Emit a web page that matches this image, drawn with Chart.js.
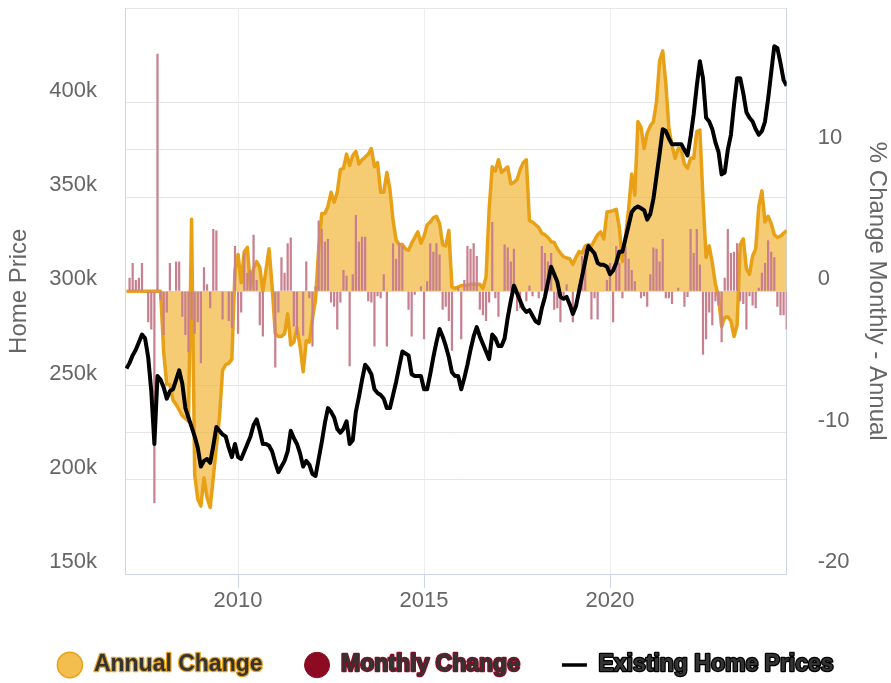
<!DOCTYPE html>
<html>
<head>
<meta charset="utf-8">
<title>Existing Home Prices</title>
<script src="https://cdn.jsdelivr.net/npm/chart.js@4.4.1/dist/chart.umd.min.js"></script>
<style>
  html, body { margin: 0; padding: 0; background: #fff; }
  canvas { display: block; }
</style>
</head>
<body>
<canvas id="chart" width="891" height="683"></canvas>
<script>
// Monthly series, January 2007 onward
const startYear = 2007;

// Existing home prices, thousands of dollars
const homePrices = [
  259, 262, 266, 269, 273, 277, 275, 265, 247, 219, 255, 253,
  249, 243, 247, 248, 253, 258, 251, 238, 233, 228, 223, 217,
  207, 210, 211, 209, 218, 228, 226, 224, 223, 217, 212, 219,
  212, 211, 215, 219, 223, 229, 232, 226, 219, 219, 218, 215,
  209, 204, 207, 210, 215, 226, 222, 219, 214, 207, 210, 208,
  203, 202, 211, 220, 230, 238, 236, 233, 227, 225, 227, 231,
  219, 221, 236, 244, 253, 261, 259, 256, 248, 246, 245, 243,
  238, 238, 245, 252, 260, 268, 267, 266, 256, 255, 255, 255,
  248, 248, 256, 265, 273, 280, 276, 271, 265, 257, 255, 255,
  248, 254, 261, 269, 276, 281, 276, 272, 268, 264, 277, 275,
  271, 271, 275, 286, 295, 303, 299, 295, 291, 289, 290, 287,
  284, 283, 291, 297, 305, 313, 309, 305, 297, 296, 297, 293,
  288, 292, 300, 308, 316, 324, 322, 320, 315, 314, 314, 313,
  309, 311, 315, 321, 321, 328, 335, 342, 344, 345, 344, 343,
  338, 341, 349, 361, 373, 386, 385, 381, 378, 378, 378, 378,
  375, 372, 382, 394, 409, 422, 413, 392, 390, 386, 379, 374,
  362, 363, 375, 383, 399, 413, 413, 405, 395, 392, 390, 386,
  383, 385, 390, 402, 416, 430, 429, 421, 412, 409
];

// Year-over-year change, %
const annualChange = [
  0, 0, 0, 0, 0, 0, 0, 0, 0, 0, 0, 0,
  -4.3, -6.6, -6.6, -7.7, -8.0, -8.4, -8.8, -9.0, -9.2, 5.1, -13.0, -14.7,
  -15.2, -13.2, -14.6, -15.3, -13.2, -11.0, -8.9, -5.6, -5.2, -5.1, -4.8, 1.5,
  2.6, 0.6, 2.8, 3.1, 0.2, 1.6, 2.1, 1.7, 0, 1.5, 3.0, 0.3,
  -3.0, -3.2, -3.2, -3.0, -1.6, -3.8, -3.6, -2.6, -3.9, -5.7, -3.5, -3.6,
  -1.9, -0.6, 3.0, 5.5, 5.5, 6.0, 7.0, 6.3, 7.0, 8.6, 8.7, 9.7,
  8.9, 9.6, 9.9, 9.0, 9.3, 9.5, 9.7, 10.1, 8.8, 9.1, 7.0, 7.0,
  8.4, 7.2, 5.0, 3.6, 3.3, 3.3, 3.0, 2.9, 3.4, 3.8, 4.2, 3.4,
  3.9, 4.7, 4.9, 5.2, 5.3, 4.8, 3.3, 3.2, 4.3, 0.3, 0.2, 0.3,
  0.4, 0.4, 0.4, 0.5, 0.5, 0.5, 0.5, 0.2, 1.0, 5.8, 8.8, 8.5,
  9.3, 8.4, 8.6, 8.8, 7.6, 7.7, 7.9, 8.6, 9.1, 9.3, 5.0, 4.9,
  4.7, 4.5, 4.1, 4.0, 3.8, 3.5, 3.45, 3.0, 2.7, 2.45, 2.35, 2.3,
  1.9, 2.4, 2.8, 2.7, 3.2, 3.3, 3.2, 3.6, 4.0, 4.2, 3.7, 5.6,
  5.65, 5.7, 5.8, 4.5, 2.1, 3.9, 5.8, 8.3, 6.8, 12.0, 11.6, 10.1,
  11.2, 11.7, 12.0, 13.4, 16.3, 17.0, 14.7, 11.5, 10.3, 9.4, 10.1, 10.0,
  9.0, 8.7, 9.4, 9.4, 11.3, 11.4, 6.5, 2.4, 3.2, 2.0, 0.5, -0.4,
  -2.5, -1.85, -1.8, -2.1, -3.2, -2.4, 3.3, 3.7, 1.6, 1.2, 2.5, 3.0,
  6.0, 7.1, 4.9, 5.3, 4.8, 4.0, 3.8, 3.9, 4.1, 4.3
];

// Month-over-month change, %
const monthlyChange = [
  0, 0.95, 2.0, 0.8, 0.95, 2.0, 0, -2.2, -2.7, -15.0, 16.8, -0.6,
  -3.1, -1.5, 2.0, 0, 2.1, 2.1, -1.8, -3.1, -4.3, -2.0, -3.0, -2.2,
  -5.1, 1.7, 0.5, -1.2, 4.4, 4.3, 0, -2.0, 0, -2.1, -2.6, 3.2,
  -3.0, -1.5, 2.7, 1.3, 1.5, 4.0, 0.8, -2.4, -3.2, 0, 0, 0,
  -5.4, -1.5, 2.4, 1.3, 3.4, 3.8, -2.5, -3.1, 0, -3.15, 2.1, -0.5,
  -3.9, 0.35, 5.0, 4.4, 3.5, 3.7, -0.8, -1.1, -2.7, -0.8, 1.5, 1.1,
  -5.3, 1.2, 5.4, 3.5, 3.85, 3.85, -0.7, -0.8, -3.9, -0.35, -0.5, 1.2,
  -3.9, 0, 3.4, 2.3, 3.4, 3.2, 0, -1.3, -3.2, -0.25, 0, 0.35,
  -3.4, 0.7, 3.4, 2.8, 3.4, 2.6, -1.3, -1.1, -2.1, -4.2, 0, 0.3,
  -3.4, 0.8, 3.2, 3.0, 3.4, 2.5, -1.3, -1.7, -2.1, -0.8, 4.9, -0.5,
  -1.8, 0, 3.3, 3.1, 2.1, 3.0, -1.4, -1.2, 0, -0.7, 0.4, -0.35,
  0, -0.5, 3.2, 2.7, 2.1, 2.7, -1.3, -1.2, -2.2, -0.35, 0.5, 0,
  -2.2, 0, 0.5, 2.5, 3.0, 0, -2.0, -0.5, -2.0, 0, 0, 0.8,
  2.0, -2.2, 3.2, 2.0, -0.5, 3.2, 2.3, 1.5, 0.7, 0, -0.5, -0.35,
  -1.1, 1.2, 3.1, 3.0, 2.1, 3.7, -0.5, -0.5, -0.9, 0, 0.24, 0,
  -1.1, -0.4, 4.4, 2.7, 4.4, 1.9, -4.5, -3.4, -1.5, -2.4, -0.7, -1.0,
  -3.6, 0.95, 4.4, 2.7, 2.8, 3.4, -0.7, -0.9, -2.7, -0.35, -1.0, -1.2,
  0.24, 1.3, 2.0, 3.6, 2.8, 2.4, -1.1, -1.7, -1.7, -2.7
];

const yearTicks = [2010, 2015, 2020];
const priceTicks = [150, 200, 250, 300, 350, 400];
const pctTicks = [-20, -10, 0, 10];

const fontFamily = '"Liberation Sans", Arial, Helvetica, sans-serif';
const legendFontSize = 23;
const legendBoxWidth = 25;

// legend swatch + text outline per dataset
const legendStyle = [
  { fill: '#f3be4e', stroke: '#e8a116', width: 1.5, point: 'circle', outline: '#e8a116' },
  { fill: '#8c0a22', stroke: '#8c0a22', width: 1, point: 'circle', outline: '#8c0a22' },
  { fill: '#000000', stroke: '#000000', width: 3.5, point: 'line', outline: '#000000' }
];

const toPoints = values => values.map((y, i) => ({ x: startYear + i / 12, y }));

// redraw legend text with a coloured outline behind a dark fill
const legendOutline = {
  id: 'legendOutline',
  afterDraw(chart) {
    const legend = chart.legend;
    const ctx = chart.ctx;
    ctx.save();
    ctx.font = `bold ${legendFontSize}px ${fontFamily}`;
    ctx.textAlign = 'left';
    ctx.textBaseline = 'middle';
    ctx.lineJoin = 'round';
    ctx.lineWidth = 2.5;
    legend.legendItems.forEach((item, i) => {
      const box = legend.legendHitBoxes[i];
      const x = box.left + legendBoxWidth + legendFontSize / 2;
      const y = box.top + box.height / 2;
      ctx.strokeStyle = legendStyle[item.datasetIndex].outline;
      ctx.strokeText(item.text, x, y);
      ctx.fillStyle = '#333333';
      ctx.fillText(item.text, x, y);
    });
    ctx.restore();
  }
};

const tickFont = { size: 22, family: fontFamily };
const titleFont = { size: 24, family: fontFamily };

new Chart(document.getElementById('chart'), {
  type: 'line',
  data: {
    datasets: [
      {
        label: 'Annual Change',
        data: toPoints(annualChange),
        yAxisID: 'pct',
        borderColor: '#e8a116',
        borderWidth: 3.5,
        backgroundColor: 'rgba(240, 176, 40, 0.65)',
        fill: 'origin',
        pointRadius: 0,
        tension: 0,
        borderJoinStyle: 'round',
        order: 2
      },
      {
        type: 'bar',
        label: 'Monthly Change',
        data: toPoints(monthlyChange),
        yAxisID: 'pct',
        backgroundColor: '#c8808f',
        order: 1
      },
      {
        label: 'Existing Home Prices',
        data: toPoints(homePrices),
        yAxisID: 'price',
        borderColor: '#000000',
        borderWidth: 4,
        pointRadius: 0,
        tension: 0,
        borderJoinStyle: 'round',
        order: 0
      }
    ]
  },
  options: {
    responsive: false,
    animation: false,
    devicePixelRatio: 1,
    layout: { padding: { top: 8.5, bottom: -3.5, left: 0, right: 0 } },
    scales: {
      x: {
        type: 'linear',
        offset: false,
        min: 2006.96,
        max: 2024.75,
        afterBuildTicks: axis => { axis.ticks = yearTicks.map(value => ({ value })); },
        afterFit: axis => { axis.height = 37.5; },
        grid: { offset: false, color: '#eeeeee', tickColor: '#ccd6eb', tickLength: 14 },
        border: { color: '#ccd6eb' },
        ticks: {
          color: '#666666',
          font: tickFont,
          padding: 0,
          maxRotation: 0,
          callback: v => String(v)
        }
      },
      price: {
        position: 'left',
        min: 150,
        max: 450,
        grid: { color: '#e6e6e6', drawTicks: false },
        border: { color: '#ccd6eb' },
        ticks: {
          stepSize: 50,
          padding: 28,
          labelOffset: -12,
          color: '#666666',
          font: tickFont,
          callback: v => (priceTicks.includes(v) ? `${v}k` : '')
        },
        title: {
          display: true,
          text: 'Home Price',
          color: '#666666',
          font: titleFont,
          padding: { top: 5, bottom: 0 }
        },
        afterFit: axis => {
          axis.width = 125;
          axis.paddingTop = 0;
          axis.paddingBottom = 0;
        }
      },
      pct: {
        position: 'right',
        min: -20,
        max: 20,
        grid: { color: '#e6e6e6', drawTicks: false },
        border: { color: '#ccd6eb' },
        ticks: {
          stepSize: 10,
          padding: 31,
          labelOffset: -12,
          color: '#666666',
          font: tickFont,
          callback: v => (pctTicks.includes(v) ? String(v) : '')
        },
        title: {
          display: true,
          text: '% Change Monthly - Annual',
          color: '#666666',
          font: titleFont,
          padding: { top: 0, bottom: 0 }
        },
        afterFit: axis => {
          axis.width = 104.3;
          axis.paddingTop = 0;
          axis.paddingBottom = 0;
        }
      }
    },
    plugins: {
      tooltip: { enabled: false },
      legend: {
        position: 'bottom',
        labels: {
          usePointStyle: true,
          pointStyleWidth: legendBoxWidth,
          boxHeight: 18,
          padding: 42,
          font: { size: legendFontSize, weight: 'bold', family: fontFamily },
          generateLabels: chart => chart.data.datasets.map((ds, i) => ({
            text: ds.label,
            datasetIndex: i,
            fillStyle: legendStyle[i].fill,
            strokeStyle: legendStyle[i].stroke,
            lineWidth: legendStyle[i].width,
            pointStyle: legendStyle[i].point,
            fontColor: '#333333',
            hidden: !chart.isDatasetVisible(i)
          }))
        }
      }
    }
  },
  plugins: [legendOutline]
});
</script>
</body>
</html>
